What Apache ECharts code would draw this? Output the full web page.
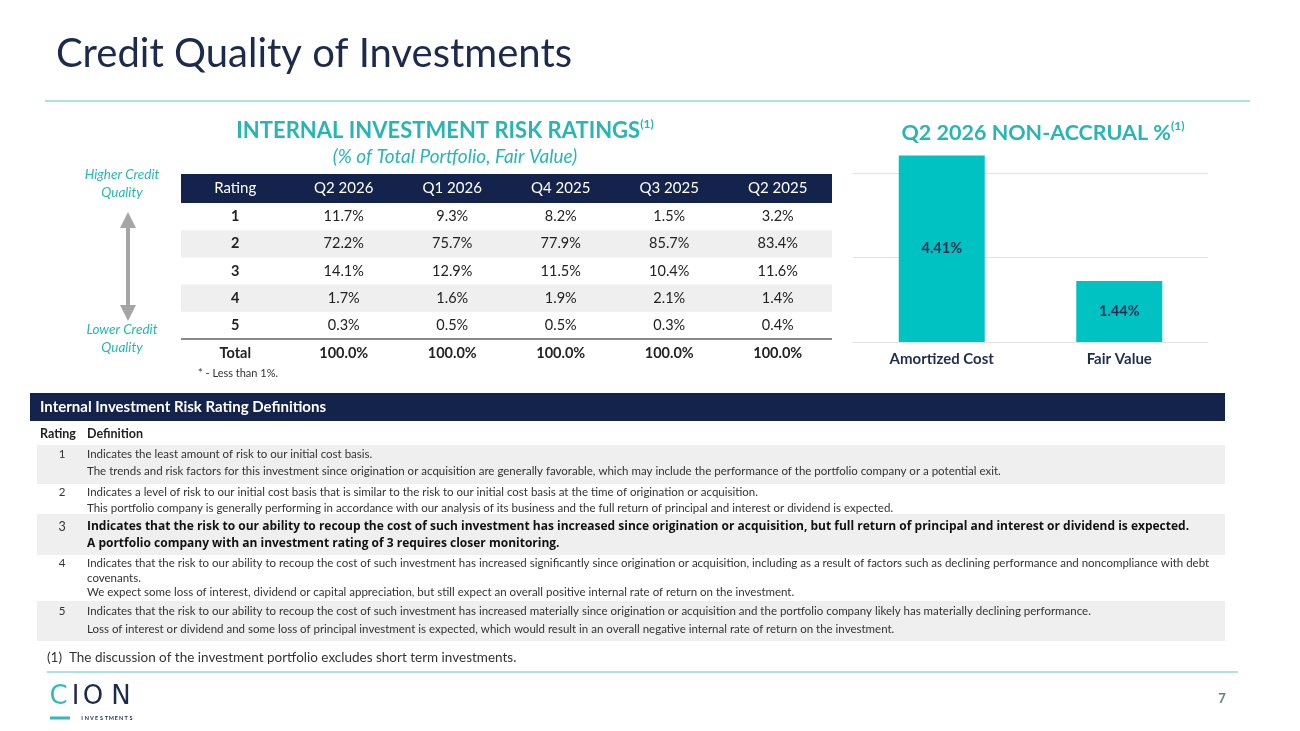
<!DOCTYPE html>
<html>
<head>
<meta charset="utf-8">
<script src="https://cdn.jsdelivr.net/npm/echarts@6/dist/echarts.min.js"></script>
<style>
  html, body { margin: 0; padding: 0; background: #fff; }
  #main { width: 1300px; height: 731px; }
</style>
</head>
<body>
<div id="main"></div>
<script>
// table data
var ratingLabels = ['1', '2', '3', '4', '5'];
var quarterLabels = ['Q2 2026', 'Q1 2026', 'Q4 2025', 'Q3 2025', 'Q2 2025'];
var q2_2026 = [11.7, 72.2, 14.1, 1.7, 0.3];
var q1_2026 = [9.3, 75.7, 12.9, 1.6, 0.5];
var q4_2025 = [8.2, 77.9, 11.5, 1.9, 0.5];
var q3_2025 = [1.5, 85.7, 10.4, 2.1, 0.3];
var q2_2025 = [3.2, 83.4, 11.6, 1.4, 0.4];
var totals = [100.0, 100.0, 100.0, 100.0, 100.0];

// non-accrual bars
var accrualCategories = ['Amortized Cost', 'Fair Value'];
var accrualValues = [4.41, 1.44];

// definitions (one array per rating, lines as on the slide)
var def1 = ['Indicates the least amount of risk to our initial cost basis.',
  'The trends and risk factors for this investment since origination or acquisition are generally favorable, which may include the performance of the portfolio company or a potential exit.'];
var def2 = ['Indicates a level of risk to our initial cost basis that is similar to the risk to our initial cost basis at the time of origination or acquisition.',
  'This portfolio company is generally performing in accordance with our analysis of its business and the full return of principal and interest or dividend is expected.'];
var def3 = ['Indicates that the risk to our ability to recoup the cost of such investment has increased since origination or acquisition, but full return of principal and interest or dividend is expected.',
  'A portfolio company with an investment rating of 3 requires closer monitoring.'];
var def4 = ['Indicates that the risk to our ability to recoup the cost of such investment has increased significantly since origination or acquisition, including as a result of factors such as declining performance and noncompliance with debt',
  'covenants.',
  'We expect some loss of interest, dividend or capital appreciation, but still expect an overall positive internal rate of return on the investment.'];
var def5 = ['Indicates that the risk to our ability to recoup the cost of such investment has increased materially since origination or acquisition and the portfolio company likely has materially declining performance.',
  'Loss of interest or dividend and some loss of principal investment is expected, which would result in an overall negative internal rate of return on the investment.'];

var NAVY = '#14234b';
var TEAL = '#2ab5b5';
var FONT = 'Lato';

var chart = echarts.init(document.getElementById('main'));

function txt(x, y, s, opt) {
  opt = opt || {};
  return {
    type: 'text', x: x, y: y, silent: true,
    style: {
      text: s,
      fill: opt.fill || '#222',
      font: (opt.italic ? 'italic ' : '') + (opt.weight || 'normal') + ' ' + (opt.size || 13) + 'px ' + (opt.family || FONT),
      textAlign: opt.align || 'left',
      textVerticalAlign: 'middle'
    }
  };
}

function supTitle(x, y, main, size) {
  return {
    type: 'text', x: x, y: y, silent: true,
    style: {
      text: '{m|' + main + '}{s|(1)}',
      textAlign: 'center', textVerticalAlign: 'middle',
      rich: {
        m: { fontFamily: FONT, fontWeight: 'bold', fontSize: size, fill: TEAL, lineHeight: size + 4 },
        s: { fontFamily: FONT, fontWeight: 'bold', fontSize: 12, fill: TEAL, verticalAlign: 'top', lineHeight: size + 4 }
      }
    }
  };
}

var g = [];

// slide title + rules
g.push(txt(56, 54, 'Credit Quality of Investments', { size: 40, fill: '#1c2a4c' }));
g.push({ type: 'line', silent: true, shape: { x1: 45, y1: 101, x2: 1250, y2: 101 }, style: { stroke: '#5fc3c3', lineWidth: 1.2 } });
g.push({ type: 'line', silent: true, shape: { x1: 47, y1: 672, x2: 1238, y2: 672 }, style: { stroke: '#5fc3c3', lineWidth: 1.2 } });
g.push(txt(1222, 699, '7', { size: 13, weight: 'bold', fill: '#6b7a90', align: 'center' }));

// table titles
g.push(supTitle(445, 131, 'INTERNAL INVESTMENT RISK RATINGS', 22));
g.push(txt(455, 157, '(% of Total Portfolio, Fair Value)', { size: 19, italic: true, fill: TEAL, align: 'center' }));

// left arrow and labels
g.push(txt(122, 175, 'Higher Credit', { size: 13.5, italic: true, fill: TEAL, align: 'center' }));
g.push(txt(122, 193, 'Quality', { size: 13.5, italic: true, fill: TEAL, align: 'center' }));
g.push(txt(122, 330, 'Lower Credit', { size: 13.5, italic: true, fill: TEAL, align: 'center' }));
g.push(txt(122, 348, 'Quality', { size: 13.5, italic: true, fill: TEAL, align: 'center' }));
g.push({ type: 'line', silent: true, shape: { x1: 128, y1: 225, x2: 128, y2: 308 }, style: { stroke: '#a5a5a5', lineWidth: 4 } });
g.push({ type: 'polygon', silent: true, shape: { points: [[128, 212], [120, 228], [136, 228]] }, style: { fill: '#a5a5a5' } });
g.push({ type: 'polygon', silent: true, shape: { points: [[128, 321], [120, 305], [136, 305]] }, style: { fill: '#a5a5a5' } });

// risk rating table
var tLeft = 181, tRight = 832, colW = (tRight - tLeft) / 6;
var headTop = 174, headH = 29, rowH = 27.2;
g.push({ type: 'rect', silent: true, shape: { x: tLeft, y: headTop, width: tRight - tLeft, height: headH }, style: { fill: NAVY } });
var headers = ['Rating'].concat(quarterLabels);
headers.forEach(function (h, i) {
  g.push(txt(tLeft + colW * (i + 0.5), headTop + headH / 2, h, { size: 15, fill: '#fff', align: 'center' }));
});
var cols = [q2_2026, q1_2026, q4_2025, q3_2025, q2_2025];
ratingLabels.forEach(function (r, ri) {
  var top = headTop + headH + ri * rowH;
  if (ri % 2 === 1) {
    g.push({ type: 'rect', silent: true, shape: { x: tLeft, y: top, width: tRight - tLeft, height: rowH }, style: { fill: '#efefef' } });
  }
  var cy = top + rowH / 2;
  g.push(txt(tLeft + colW * 0.5, cy, r, { size: 14.5, weight: 'bold', align: 'center' }));
  cols.forEach(function (c, ci) {
    g.push(txt(tLeft + colW * (ci + 1.5), cy, c[ri].toFixed(1) + '%', { size: 14.5, align: 'center' }));
  });
});
var totTop = headTop + headH + 5 * rowH;
g.push({ type: 'line', silent: true, shape: { x1: tLeft, y1: totTop, x2: tRight, y2: totTop }, style: { stroke: '#8a8a8a', lineWidth: 2 } });
g.push(txt(tLeft + colW * 0.5, totTop + 14, 'Total', { size: 14.5, weight: 'bold', align: 'center' }));
totals.forEach(function (t, ci) {
  g.push(txt(tLeft + colW * (ci + 1.5), totTop + 14, t.toFixed(1) + '%', { size: 14.5, weight: 'bold', align: 'center' }));
});
g.push(txt(198, 373, '* - Less than 1%.', { size: 11, fill: '#333' }));

// non-accrual title
g.push(supTitle(1043, 133, 'Q2 2026 NON-ACCRUAL %', 21.5));

// definitions block
g.push({ type: 'rect', silent: true, shape: { x: 30, y: 393, width: 1195, height: 28 }, style: { fill: NAVY } });
g.push(txt(40, 407, 'Internal Investment Risk Rating Definitions', { size: 15, weight: 'bold', fill: '#fff' }));
g.push(txt(40, 434, 'Rating', { size: 12.5, weight: 'bold', fill: '#222' }));
g.push(txt(87, 434, 'Definition', { size: 12.5, weight: 'bold', fill: '#222' }));

var defRows = [
  { lines: def1, top: 445, h: 39, ys: [454, 471], shade: true },
  { lines: def2, top: 485, h: 28, ys: [492, 508], shade: false },
  { lines: def3, top: 514, h: 41, ys: [527, 544], shade: true, bold: true },
  { lines: def4, top: 556, h: 44, ys: [563, 578, 592], shade: false },
  { lines: def5, top: 601, h: 40, ys: [611, 629], shade: true }
];
defRows.forEach(function (d, i) {
  if (d.shade) {
    g.push({ type: 'rect', silent: true, shape: { x: 37, y: d.top, width: 1188, height: d.h }, style: { fill: '#efefef' } });
  }
  g.push(txt(62, d.ys[0], ratingLabels[i], { size: d.bold ? 12.5 : 11.5, fill: '#333', align: 'center' }));
  d.lines.forEach(function (l, li) {
    if (d.bold) {
      g.push(txt(87, d.ys[li], l, { size: 12, weight: 'bold', fill: '#111', family: 'Open Sans' }));
    } else {
      g.push(txt(87, d.ys[li], l, { size: 11.5, fill: '#333' }));
    }
  });
});

// footnote
g.push(txt(47, 658, '(1)  The discussion of the investment portfolio excludes short term investments.', { size: 13.5, fill: '#333' }));

// logo
var logoLetters = ['C', 'I', 'O', 'N'];
var logoX = [58.5, 75.5, 93, 121];
logoLetters.forEach(function (ch, i) {
  g.push(txt(logoX[i], 697, ch, { size: 26, fill: i === 0 ? '#33b9bd' : '#1c2a4c', align: 'center', family: 'DejaVu Sans' }));
});
g.push({ type: 'line', silent: true, shape: { x1: 50, y1: 718, x2: 70, y2: 718 }, style: { stroke: '#33b9bd', lineWidth: 3 } });
'INVESTMENTS'.split('').forEach(function (ch, i) {
  g.push(txt(82 + i * 4.9, 718, ch, { size: 5.5, weight: 'bold', fill: '#1c2a4c', align: 'center' }));
});

chart.setOption({
  backgroundColor: '#ffffff',
  animation: false,
  grid: { left: 853, right: 92, top: 155.5, bottom: 389 },
  xAxis: {
    type: 'category',
    data: accrualCategories,
    axisLine: { lineStyle: { color: '#e2e2e2' } },
    axisTick: { show: false },
    axisLabel: { color: '#1f2d50', fontFamily: FONT, fontWeight: 'bold', fontSize: 15, margin: 10 }
  },
  yAxis: {
    type: 'value',
    min: 0,
    max: 4.41,
    interval: 2,
    axisLabel: { show: false },
    axisLine: { show: false },
    axisTick: { show: false },
    splitLine: { lineStyle: { color: ['#e2e2e2', '#e2e2e2', '#e2e2e2', 'rgba(0,0,0,0)'] } }
  },
  series: [{
    type: 'bar',
    data: accrualValues,
    barWidth: 86,
    itemStyle: { color: '#00c2c2' },
    label: {
      show: true,
      position: 'inside',
      formatter: function (p) { return p.value.toFixed(2) + '%'; },
      color: '#1f2d50',
      fontFamily: FONT,
      fontWeight: 'bold',
      fontSize: 14.5
    }
  }],
  graphic: { elements: g }
});
</script>
</body>
</html>
